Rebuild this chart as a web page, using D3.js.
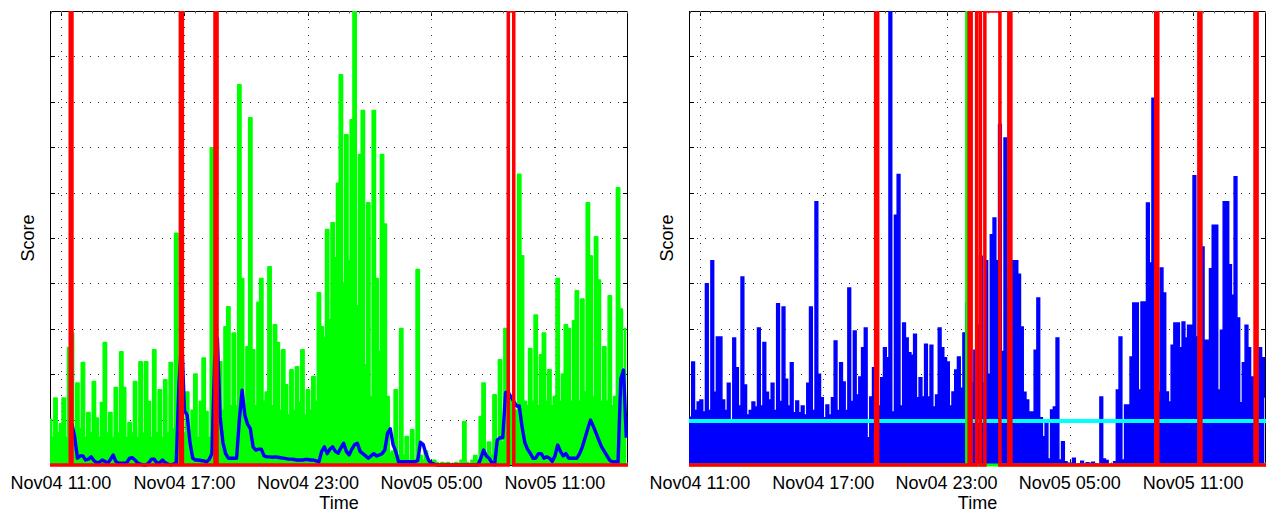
<!DOCTYPE html>
<html><head><meta charset="utf-8">
<script src="https://cdn.jsdelivr.net/npm/d3@7"></script>
<style>
body{margin:0;background:#fff}
svg{display:block}
text{font-family:"Liberation Sans",Arial,Helvetica,sans-serif;fill:#000}
</style>
</head><body>
<svg id="chart" width="1275" height="515"></svg>
<script>
// ---------------- data ----------------
const sampleStart = "2000-11-04 10:28";
const sampleEnd = "2000-11-05 14:33";
const sampleStepMinutes = 8;
const xTickTimes = ["2000-11-04 11:00","2000-11-04 17:00","2000-11-04 23:00","2000-11-05 05:00","2000-11-05 11:00"];
const yTicks = [0,1,2,3,4,5,6,7,8,9,10];
const scoreMax = 10;
const xLabel = "Time";
const yLabel = "Score";

// left panel: green raw score
const leftGreen = [
1.0,0.6,1.47,0.7,0.9,1.47,0.6,2.58,2.9,0.7,
1.8,0.8,2.25,0.6,1.15,0.7,1.83,1.03,0.6,1.37,
2.69,0.7,1.15,0.6,1.7,0.7,2.49,1.7,0.6,0.93,
0.7,1.83,0.6,2.27,0.7,2.27,1.39,0.6,2.53,0.7,
1.65,0.6,1.87,0.7,2.25,0.8,5.1,0.8,1.5,0.7,
1.6,0.6,1.2,2.0,0.6,1.4,2.35,1.17,0.6,6.98,
0.8,1.0,2.27,1.2,3.04,3.48,1.3,2.9,1.3,8.37,
4.1,1.2,2.6,7.64,2.53,1.3,3.58,4.1,1.4,1.6,
4.36,1.3,3.08,2.69,1.2,2.53,1.76,1.1,2.09,1.2,
2.16,1.37,2.53,1.1,1.65,1.2,1.94,1.4,3.79,3.04,
2.8,5.18,3.2,5.33,4.56,6.2,8.59,4.0,7.27,4.5,
7.6,10.3,3.5,6.83,7.8,2.2,5.77,1.5,7.8,4.1,
2.5,6.83,5.3,1.5,0.26,0.3,1.65,0.2,3.0,0.2,
0.62,0.1,0.77,0.1,4.3,0.2,0.1,0.3,0.05,0.05,
0.1,0.05,0,0.05,0,0.05,0,0,0.05,0,
0.1,0.95,0.05,0,0.1,0.2,0.1,1.06,1.8,0.2,
0.5,0.2,1.54,0.4,2.31,0.5,3.0,1.0,1.5,1.0,
1.2,6.4,4.6,1.4,1.3,2.56,1.4,3.3,1.3,2.42,
2.9,1.4,2.09,1.3,1.5,4.1,1.4,2.0,3.08,3.0,
1.4,3.17,3.83,1.4,3.65,1.6,5.77,4.6,1.5,5.02,
4.07,1.4,2.6,1.4,3.72,1.3,1.5,6.1,3.43,1.4,
3.0];

// left panel: blue smoothed score
const leftBlue = [
null,null,null,null,null,null,null,null,0.9,0.62,
0.15,0.2,0.2,0.11,0.13,0.18,0.1,0.05,0.06,0.11,
0.08,0.04,0.12,0.22,0.08,0.04,0.04,0.04,0.05,0.15,
0.16,0.11,0.04,0.02,0,0,0.05,0.13,0.13,0.04,
0.05,0.11,0.05,0.02,0,0.02,0.04,1.8,2.8,1.2,
1.1,0.5,0.15,0.11,0.11,0.1,0.09,0.07,0.12,0.25,
2.3,2.8,1.06,0.5,0.25,0.15,0.15,0.15,0.15,1.0,
1.65,1.1,0.9,0.8,0.4,0.33,0.35,0.35,0.2,0.18,
0.18,0.17,0.18,0.17,0.16,0.15,0.14,0.13,0.13,0.12,
0.11,0.11,0.11,0.12,0.12,0.11,0.11,0.09,0.07,0.3,
0.4,0.25,0.35,0.4,0.3,0.26,0.38,0.48,0.3,0.22,
0.35,0.45,0.48,0.3,0.25,0.2,0.15,0.2,0.25,0.2,
0.22,0.25,0.33,0.7,0.8,0.45,0.3,0.07,0.07,0.07,
0.07,0.07,0.07,0.07,0.1,0.5,0.45,0.25,0.1,0.04,
0.02,0,0,0,0,0,0,0,0,0,
0,0,0,0,0,0,0,0.15,0.33,0.2,
0.15,0.05,0,0.55,0.6,0.6,1.6,1.6,1.5,1.4,
1.3,1.3,0.85,0.5,0.35,0.26,0.15,0.15,0.25,0.25,
0.15,0.18,0.15,0.08,0.2,0.44,0.3,0.2,0.25,0.15,
0.15,0.15,0.15,0.25,0.4,0.6,0.81,0.99,0.85,0.7,
0.55,0.4,0.3,0.2,0.1,0.07,0.07,0.07,1.9,2.09,
0.6];

// left panel: red alarm windows (start, end)
const leftRedEvents = [
["2000-11-04 11:27","2000-11-04 11:32"],
["2000-11-04 16:48","2000-11-04 16:54"],
["2000-11-04 18:29","2000-11-04 18:35"],
["2000-11-05 08:44","2000-11-05 09:00"]];

// right panel: blue score
const rightBlue = [
1.05,2.27,1.2,1.39,1.43,1.17,3.99,1.2,4.5,1.6,
2.82,2.82,1.43,1.2,1.8,0.99,2.8,2.14,1.3,4.14,
1.76,1.1,1.2,1.39,1.28,3.02,1.3,2.7,1.6,1.43,
1.8,1.2,3.55,1.4,3.48,1.89,1.3,2.25,1.15,1.41,
1.15,1.3,1.1,1.8,3.48,1.2,5.8,2.0,1.48,1.04,
1.32,1.1,1.48,2.73,1.2,2.25,1.83,1.2,3.9,1.4,
2.95,1.54,1.94,2.58,3.02,0.6,1.5,2.14,3.4,1.3,
1.92,2.58,2.36,10.5,1.17,5.5,6.4,1.3,3.13,2.8,
2.47,2.42,2.88,1.48,1.92,1.5,2.66,1.5,2.64,1.28,
1.54,3.02,2.58,2.36,2.27,1.3,1.61,2.09,2.38,1.69,
2.91,3.57,1.5,1.8,2.53,3.08,4.6,1.8,4.5,2.0,
5.07,5.44,4.5,7.5,2.5,7.2,3.9,2.0,4.5,4.5,
4.2,3.04,1.6,1.43,1.17,1.17,2.53,3.68,1.04,0.62,
0.93,0.13,1.21,1.28,2.8,0.11,0.51,0.07,0.04,0.04,
0.15,0,0.02,0.08,0.02,0.05,0.02,0.06,0.02,0,
1.5,0.13,0.1,0,0,0.07,1.65,2.82,0.11,1.32,
1.32,2.38,3.57,3.57,1.65,3.59,3.59,5.77,4.45,8.08,
1.32,1.6,4.34,3.79,1.61,1.39,2.64,3.13,3.13,2.58,
3.15,2.8,3.08,3.08,6.37,2.82,2.0,4.8,2.75,2.75,
4.32,5.28,5.28,1.65,2.97,5.8,5.8,4.41,3.74,6.35,
3.24,1.37,2.25,3.08,2.58,1.94,1.48,1.3,2.58,2.36,
1.48];

const rightThreshold = 0.97;
const rightGreenEvents = [["2000-11-04 23:59","2000-11-05 00:01"]];
const rightRedEvents = [
["2000-11-04 19:33","2000-11-04 19:39"],
["2000-11-05 00:06","2000-11-05 00:12"],
["2000-11-05 00:28","2000-11-05 00:39"],
["2000-11-05 00:52","2000-11-05 01:36"],
["2000-11-05 02:02","2000-11-05 02:08"],
["2000-11-05 09:11","2000-11-05 09:17"],
["2000-11-05 11:17","2000-11-05 11:23"],
["2000-11-05 14:01","2000-11-05 14:07"]];

// ---------------- drawing ----------------
const parse = d3.timeParse("%Y-%m-%d %H:%M");
const tStart = parse(sampleStart), tEnd = parse(sampleEnd);
const timeAt = i => d3.timeMinute.offset(tStart, i * sampleStepMinutes);
const fmt = d3.timeFormat("%b%d %H:%M");
const xTicks = xTickTimes.map(parse);

function pulseSeries(events, high) {
  const pts = [[tStart, 0]];
  events.forEach(([a, b]) => {
    const ta = parse(a), tb = parse(b);
    pts.push([ta, 0], [ta, high], [tb, high], [tb, 0]);
  });
  pts.push([tEnd, 0]);
  return pts;
}

const svg = d3.select("#chart");
const plotTop = 11, plotBottom = 465;
const panels = [{left: 50, right: 628}, {left: 689, right: 1266}];

function setupPanel(p, idx) {
  const x = d3.scaleTime().domain([tStart, tEnd]).range([p.left, p.right]);
  const y = d3.scaleLinear().domain([0, scoreMax]).range([plotBottom, plotTop]);
  const g = svg.append("g");
  const clipId = "clip" + idx;
  svg.append("clipPath").attr("id", clipId).append("rect")
    .attr("x", p.left).attr("y", plotTop)
    .attr("width", p.right - p.left).attr("height", plotBottom - plotTop + 3);

  // grid
  const grid = g.append("g").attr("stroke", "#333").attr("stroke-width", 1)
    .attr("stroke-dasharray", "1,7").attr("fill", "none");
  yTicks.slice(1, -1).forEach(v => {
    const yy = Math.round(y(v)) + 0.5;
    grid.append("line").attr("x1", p.left).attr("x2", p.right).attr("y1", yy).attr("y2", yy);
  });
  xTicks.forEach(t => {
    const xx = Math.round(x(t)) + 0.5;
    grid.append("line").attr("x1", xx).attr("x2", xx).attr("y1", plotTop).attr("y2", plotBottom);
  });

  // box
  g.append("rect").attr("x", p.left + 0.5).attr("y", plotTop + 0.5)
    .attr("width", p.right - p.left - 1).attr("height", plotBottom - plotTop)
    .attr("fill", "none").attr("stroke", "#000").attr("stroke-width", 1);

  // ticks
  const tk = g.append("g").attr("stroke", "#000").attr("stroke-width", 1);
  yTicks.forEach(v => {
    const yy = Math.round(y(v)) + 0.5;
    tk.append("line").attr("x1", p.left).attr("x2", p.left + 5).attr("y1", yy).attr("y2", yy);
    tk.append("line").attr("x1", p.right - 5).attr("x2", p.right).attr("y1", yy).attr("y2", yy);
  });
  xTicks.forEach(t => {
    const xx = Math.round(x(t)) + 0.5;
    tk.append("line").attr("x1", xx).attr("x2", xx).attr("y1", plotTop).attr("y2", plotTop + 5);
    tk.append("line").attr("x1", xx).attr("x2", xx).attr("y1", plotBottom).attr("y2", plotBottom - 5);
  });
  x.ticks(d3.timeMinute.every(30)).forEach(t => {
    const xx = Math.round(x(t)) + 0.5;
    tk.append("line").attr("x1", xx).attr("x2", xx).attr("y1", plotTop).attr("y2", plotTop + 2.5).attr("stroke", "#666");
    tk.append("line").attr("x1", xx).attr("x2", xx).attr("y1", plotBottom).attr("y2", plotBottom - 2.5).attr("stroke", "#666");
  });

  // labels
  xTicks.forEach(t => {
    g.append("text").attr("x", x(t)).attr("y", 489).attr("text-anchor", "middle")
      .attr("font-size", 18).text(fmt(t));
  });
  g.append("text").attr("x", (p.left + p.right) / 2).attr("y", 509).attr("text-anchor", "middle")
    .attr("font-size", 18).text(xLabel);
  g.append("text").attr("transform", `translate(${p.left - 16},${(plotTop + plotBottom) / 2}) rotate(-90)`)
    .attr("text-anchor", "middle").attr("font-size", 18).text(yLabel);

  const data = g.append("g").attr("clip-path", `url(#${clipId})`);
  return {x, y, data};
}

// Left panel
(function () {
  const {x, y, data} = setupPanel(panels[0], 0);
  const area = d3.area().x((d, i) => x(timeAt(i))).y0(y(0)).y1(d => y(d)).curve(d3.curveStep);
  const line = d3.line().x((d, i) => x(timeAt(i))).y(d => y(d)).curve(d3.curveStep);
  data.append("path").datum(leftGreen).attr("d", area).attr("fill", "#00ff00");
  data.append("path").datum(leftGreen).attr("d", line).attr("fill", "none")
    .attr("stroke", "#00ff00").attr("stroke-width", 2.1).attr("stroke-linejoin", "round");
  const bline = d3.line().defined(d => d != null).x((d, i) => x(timeAt(i))).y(d => y(d));
  data.append("path").datum(leftBlue).attr("d", bline).attr("fill", "none")
    .attr("stroke", "#0000ff").attr("stroke-width", 3.4).attr("stroke-linejoin", "round");
  const pline = d3.line().x(d => x(d[0])).y(d => y(d[1]));
  data.append("path").datum(pulseSeries(leftRedEvents, scoreMax)).attr("d", pline)
    .attr("fill", "none").attr("stroke", "#ff0000").attr("stroke-width", 3.5);
})();

// Right panel
(function () {
  const {x, y, data} = setupPanel(panels[1], 1);
  const area = d3.area().x((d, i) => x(timeAt(i))).y0(y(0)).y1(d => y(d)).curve(d3.curveStepAfter);
  const line = d3.line().x((d, i) => x(timeAt(i))).y(d => y(d)).curve(d3.curveStepAfter);
  data.append("path").datum(rightBlue).attr("d", area).attr("fill", "#0000ff");
  data.append("path").datum(rightBlue).attr("d", line).attr("fill", "none")
    .attr("stroke", "#0000ff").attr("stroke-width", 1.5);
  const pline = d3.line().x(d => x(d[0])).y(d => y(d[1]));
  data.append("path").datum([[tStart, rightThreshold], [tEnd, rightThreshold]]).attr("d", pline)
    .attr("fill", "none").attr("stroke", "#00ffff").attr("stroke-width", 4);
  data.append("path").datum(pulseSeries(rightGreenEvents, scoreMax)).attr("d", pline)
    .attr("fill", "none").attr("stroke", "#00ff00").attr("stroke-width", 3.2);
  data.append("path").datum(pulseSeries(rightRedEvents, scoreMax)).attr("d", pline)
    .attr("fill", "none").attr("stroke", "#ff0000").attr("stroke-width", 3.5);
})();
</script>
</body></html>
